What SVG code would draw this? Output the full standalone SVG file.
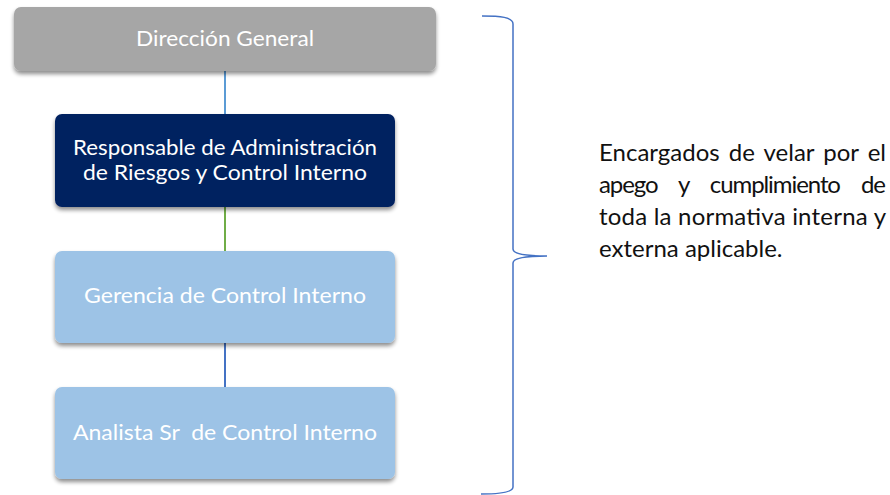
<svg xmlns="http://www.w3.org/2000/svg" width="890" height="495" viewBox="0 0 890 495">
  <style>
    .lbl { font-family: Lato, "Open Sans", "Liberation Sans", sans-serif; font-size: 21px; fill: #ffffff; text-anchor: middle; }
    .note { font-family: Lato, "Open Sans", "Liberation Sans", sans-serif; font-size: 24px; fill: #111111; }
    .conn { stroke-width: 2; fill: none; }
  </style>
  <defs>
    <filter id="sh" x="-10%" y="-20%" width="120%" height="150%">
      <feGaussianBlur in="SourceAlpha" stdDeviation="2"/>
      <feOffset dx="0" dy="3" result="b"/>
      <feComponentTransfer><feFuncA type="linear" slope="0.45"/></feComponentTransfer>
      <feMerge><feMergeNode/><feMergeNode in="SourceGraphic"/></feMerge>
    </filter>
  </defs>
  <rect width="890" height="495" fill="#ffffff"/>
  <g id="connectors">
    <line class="conn" x1="225" y1="71" x2="225" y2="114" stroke="#5b9bd5"/>
    <line class="conn" x1="225" y1="207" x2="225" y2="251" stroke="#70ad47"/>
    <line class="conn" x1="225" y1="343" x2="225" y2="387" stroke="#4472c4"/>
  </g>
  <g id="n1">
    <rect x="14" y="7" width="422" height="64" rx="7" fill="#a6a6a6" filter="url(#sh)"/>
    <text class="lbl" x="225" y="46" textLength="178" lengthAdjust="spacingAndGlyphs">Dirección General</text>
  </g>
  <g id="n2">
    <rect x="55" y="114" width="340" height="93" rx="7" fill="#002060" filter="url(#sh)"/>
    <text class="lbl" x="225" y="155" textLength="304" lengthAdjust="spacingAndGlyphs">Responsable de Administración</text>
    <text class="lbl" x="225" y="180" textLength="284" lengthAdjust="spacingAndGlyphs">de Riesgos y Control Interno</text>
  </g>
  <g id="n3">
    <rect x="55" y="251" width="340" height="92" rx="7" fill="#9dc3e6" filter="url(#sh)"/>
    <text class="lbl" x="225" y="303" textLength="282" lengthAdjust="spacingAndGlyphs">Gerencia de Control Interno</text>
  </g>
  <g id="n4">
    <rect x="55" y="387" width="340" height="92" rx="7" fill="#9dc3e6" filter="url(#sh)"/>
    <text class="lbl" x="225" y="440" textLength="304" lengthAdjust="spacingAndGlyphs" xml:space="preserve">Analista Sr  de Control Interno</text>
  </g>
  <g id="brace">
    <path d="M482,16 C500,16 513,17 513,24 L513,249 C513,254 524,256 547,256 C524,256 513,258 513,263 L513,487 C513,492 500,494 481,494" fill="none" stroke="#4472c4" stroke-width="1.5"/>
  </g>
  <g id="note">
    <text class="note" x="599" y="161" textLength="287" lengthAdjust="spacing" word-spacing="3">Encargados de velar por el</text>
    <text class="note" x="599" y="193" textLength="287" lengthAdjust="spacing" word-spacing="16">apego y cumplimiento de</text>
    <text class="note" x="599" y="225" textLength="287" lengthAdjust="spacing">toda la normativa interna y</text>
    <text class="note" x="599" y="257">externa aplicable.</text>
  </g>
</svg>
